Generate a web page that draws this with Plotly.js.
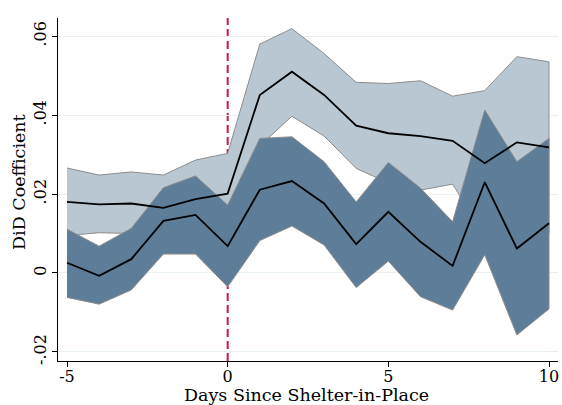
<!DOCTYPE html>
<html>
<head>
<meta charset="utf-8">
<script src="https://cdn.plot.ly/plotly-3.0.1.min.js"></script>
<style>html,body{margin:0;padding:0;background:#fff;}#chart{width:562px;height:405px;}</style>
</head>
<body>
<div id="chart"></div>
<script>
const days = [-5,-4,-3,-2,-1,0,1,2,3,4,5,6,7,8,9,10];
const yTicks = [-0.02, 0, 0.02, 0.04, 0.06];
const yTickLabels = ['-.02', '0', '.02', '.04', '.06'];
const xTicks = [-5, 0, 5, 10];
const xTitle = 'Days Since Shelter-in-Place';
const yTitle = 'DiD Coefficient';

const lightMean  = [0.0180, 0.0174, 0.0176, 0.0165, 0.0187, 0.0201, 0.0451, 0.0510, 0.0451, 0.0373, 0.0354, 0.0347, 0.0335, 0.0278, 0.0331, 0.0318];
const lightUpper = [0.0266, 0.0248, 0.0256, 0.0248, 0.0286, 0.0303, 0.0580, 0.0619, 0.0556, 0.0483, 0.0480, 0.0487, 0.0448, 0.0462, 0.0548, 0.0535];
const lightLower = [0.0095, 0.0102, 0.0100, 0.0082, 0.0088, 0.0099, 0.0322, 0.0397, 0.0347, 0.0265, 0.0228, 0.0210, 0.0225, 0.0094, 0.0112, 0.0101];

const darkMean  = [0.0026, -0.0007, 0.0035, 0.0132, 0.0147, 0.0068, 0.0211, 0.0233, 0.0176, 0.0073, 0.0155, 0.0079, 0.0018, 0.0230, 0.0062, 0.0126];
const darkUpper = [0.0111, 0.0068, 0.0113, 0.0216, 0.0246, 0.0172, 0.0341, 0.0345, 0.0282, 0.0180, 0.0280, 0.0215, 0.0130, 0.0413, 0.0282, 0.0341];
const darkLower = [-0.0062, -0.0079, -0.0043, 0.0048, 0.0048, -0.0035, 0.0082, 0.0119, 0.0071, -0.0037, 0.0030, -0.0060, -0.0094, 0.0046, -0.0157, -0.0091];

function band(upper, lower, fill) {
  return {
    x: days.concat(days.slice().reverse()),
    y: upper.concat(lower.slice().reverse()),
    type: 'scatter', mode: 'lines', fill: 'toself',
    fillcolor: fill,
    line: {color: '#8c8c8c', width: 1},
    hoverinfo: 'skip', showlegend: false
  };
}
function meanLine(vals) {
  return {x: days, y: vals, type: 'scatter', mode: 'lines',
    line: {color: '#000000', width: 1.8}, showlegend: false};
}

const data = [
  band(lightUpper, lightLower, '#b9c7d3'),
  band(darkUpper, darkLower, '#5e7d99'),
  meanLine(lightMean),
  meanLine(darkMean)
];

const font = {family: '"DejaVu Serif", serif', size: 16, color: '#000'};
const titleFont = {family: '"DejaVu Serif", serif', size: 17.5, color: '#000'};
const layout = {
  width: 562, height: 405,
  margin: {l: 58, r: 4, t: 18, b: 44},
  paper_bgcolor: '#fff', plot_bgcolor: '#fff',
  font: font,
  showlegend: false,
  xaxis: {
    range: [-5.28, 10.28], tickvals: xTicks, ticktext: xTicks.map(String),
    showgrid: false, zeroline: false, showline: true, linecolor: '#000', linewidth: 1,
    ticks: 'outside', ticklen: 5, tickcolor: '#000', tickfont: font,
    ticklabelstandoff: -4
  },
  yaxis: {
    range: [-0.0223, 0.0646], tickvals: yTicks, ticktext: yTickLabels, tickangle: -90,
    showgrid: true, gridcolor: '#e8f0f2', gridwidth: 1,
    zeroline: false, showline: true, linecolor: '#000', linewidth: 1,
    ticks: 'outside', ticklen: 5, tickcolor: '#000', tickfont: font
  },
  annotations: [
    {text: xTitle, xref: 'paper', yref: 'paper', x: 0.497, y: -0.099,
     xanchor: 'center', yanchor: 'middle', showarrow: false, font: titleFont},
    {text: yTitle, xref: 'paper', yref: 'paper', x: -0.078, y: 0.522, textangle: -90,
     xanchor: 'center', yanchor: 'middle', showarrow: false, font: titleFont}
  ],
  shapes: [{
    type: 'line', xref: 'x', yref: 'paper', x0: 0, x1: 0, y0: 0, y1: 1,
    line: {color: '#c8174a', width: 2, dash: '8px,4px'}, layer: 'below'
  }]
};

Plotly.newPlot('chart', data, layout, {displayModeBar: false, staticPlot: true});
</script>
</body>
</html>
